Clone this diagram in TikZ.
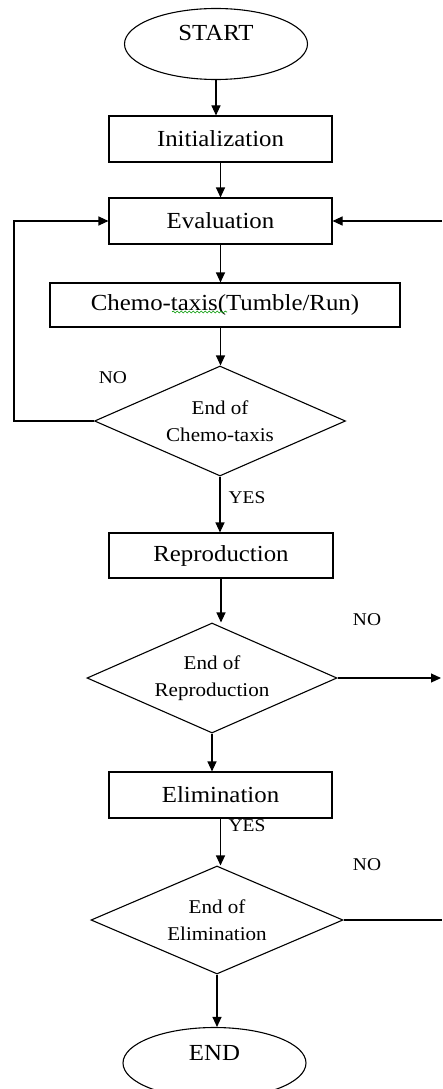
\documentclass[tikz,border=0pt]{standalone}
\usepackage{fontspec}
\setmainfont{Liberation Serif}[FakeStretch=1.08]
\usetikzlibrary{shapes.geometric,arrows.meta,decorations.pathmorphing}
\begin{document}
\begin{tikzpicture}[x=1pt,y=-1pt,line width=1.1pt,
  box/.style={draw,rectangle,minimum height=46pt,inner sep=0pt,fill=white,font=\fontsize{23}{27}\selectfont},
  term/.style={draw,ellipse,minimum width=183pt,minimum height=71pt,inner sep=0pt},
  termtext/.style={inner sep=0pt,font=\fontsize{23}{27}\selectfont},
  dec/.style={draw,diamond,shape aspect=2.3,inner sep=0pt,align=center,fill=white,font=\fontsize{19.5}{27}\selectfont},
  lbl/.style={inner sep=0pt,font=\fontsize{18}{20}\selectfont},
  arr/.style={-{Triangle[length=10pt,width=9pt]}}]
\useasboundingbox (0,0) rectangle (442,1089);
% terminals
\node[term] (start) at (216,44) {};
\node[termtext] (starttext) at (216,33) {START};
\node[term] (end) at (214.5,1063) {};
\node[termtext] (endtext) at (214.5,1053) {END};
% labels drawn under boxes
\node[lbl] (no1) at (113,378) {NO};
\node[lbl] (yes1) at (247,498) {YES};
\node[lbl] (no2) at (367,620) {NO};
\node[lbl] (yes2) at (247,826) {YES};
\node[lbl] (no3) at (367,865) {NO};
% process boxes
\node[box,minimum width=223pt] (init) at (220.5,139) {Initialization};
\node[box,minimum width=223pt] (eval) at (220.5,221) {Evaluation};
\node[box,minimum width=350pt,minimum height=44pt] (chemo) at (225,305) {Chemo-taxis(Tumble/Run)};
\node[box,minimum width=224pt,minimum height=45pt] (repro) at (221,555.5) {Reproduction};
\node[box,minimum width=223pt] (elim) at (220.5,795) {Elimination};
% decisions
\node[dec,minimum width=251pt,minimum height=110pt] (d1) at (220,421) {End of\\Chemo-taxis};
\node[dec,minimum width=250pt,minimum height=110pt] (d2) at (212,678) {End of\\Reproduction};
\node[dec,minimum width=252pt,minimum height=108pt] (d3) at (217,920) {End of\\Elimination};
% spell-check squiggle
\coordinate (sq1) at (172,312);
\coordinate (sq2) at (227,312);
\draw[green!60!black,line width=0.6pt,decorate,decoration={snake,amplitude=1pt,segment length=4pt}] (sq1) -- (sq2);
% main flow
\draw[arr] (start.south) -- (start.south |- init.north);
\draw[arr] (init.south) -- (init.south |- eval.north);
\draw[arr] (eval.south) -- (eval.south |- chemo.north);
\draw[arr] (chemo.south -| eval.south) -- (d1.north -| eval.south);
\draw[arr] (d1.south) -- (d1.south |- repro.north);
\draw[arr] (repro.south) -- (repro.south |- d2.north);
\draw[arr] (d2.south) -- (d2.south |- elim.north);
\draw[arr] (elim.south) -- (elim.south |- d3.north);
\draw[arr] (d3.south) -- (d3.south |- end.north);
% loops
\draw[arr] (d1.west) -- ++(-80,0) |- (eval.west);
\coordinate (evr) at (442,221);
\draw[arr] (evr) -- (eval.east);
\coordinate (d2r) at (441,678);
\draw[arr] (d2.east) -- (d2r);
\coordinate (d3r) at (442,920);
\draw (d3.east) -- (d3r);
\end{tikzpicture}
\end{document}
